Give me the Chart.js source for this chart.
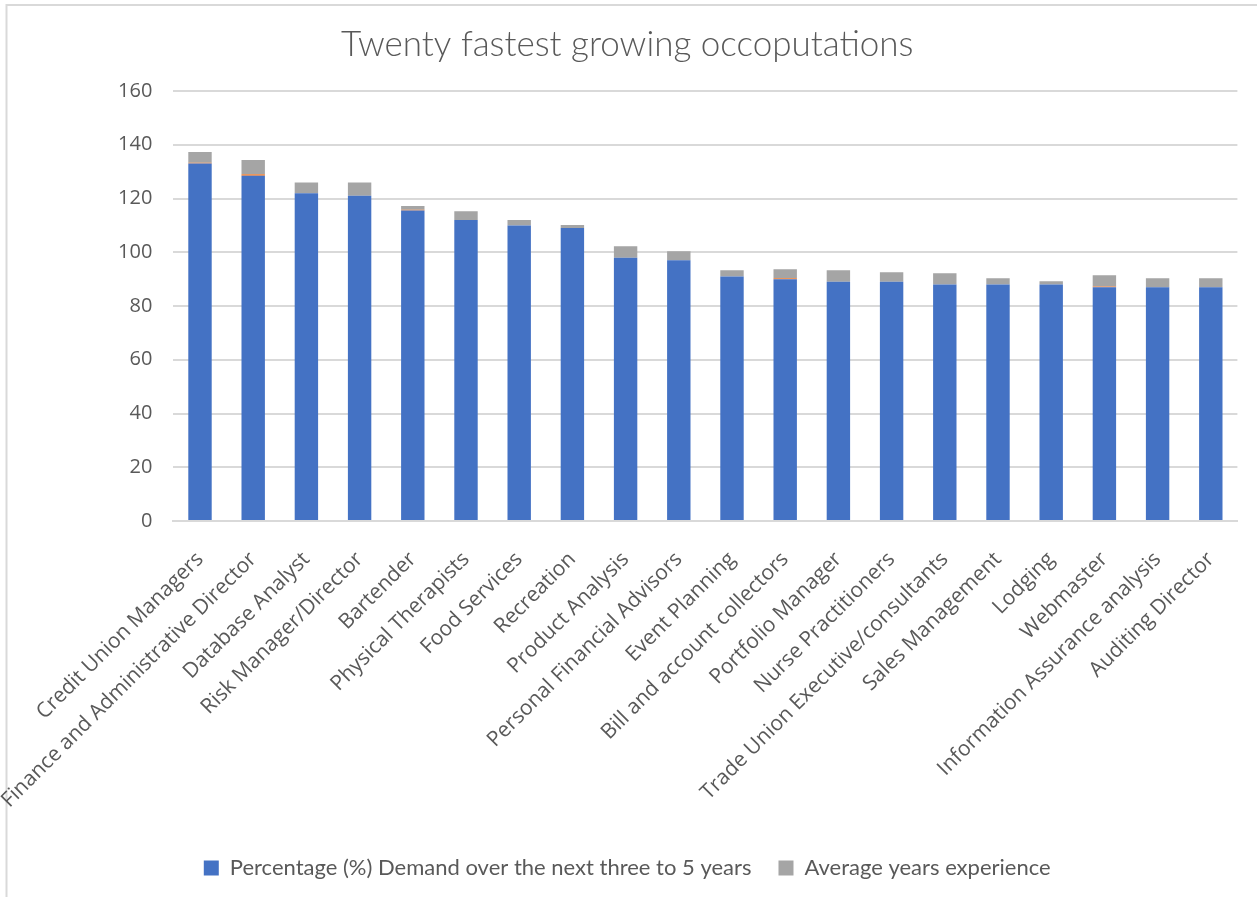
<!DOCTYPE html>
<html>
<head>
<meta charset="utf-8">
<script src="https://cdn.jsdelivr.net/npm/chart.js@4/dist/chart.umd.min.js"></script>
<style>
  html, body { margin: 0; padding: 0; background: #ffffff; }
  #wrap { position: relative; width: 1257px; height: 897px; }
</style>
</head>
<body>
<div id="wrap"><canvas id="chart" width="1257" height="897"></canvas></div>
<script>
// Occupations, in order of projected growth
const occupations = [
  'Credit Union Managers', 'Finance and Administrative Director', 'Database Analyst',
  'Risk Manager/Director', 'Bartender', 'Physical Therapists', 'Food Services',
  'Recreation', 'Product Analysis', 'Personal Financial Advisors', 'Event Planning',
  'Bill and account collectors', 'Portfolio Manager', 'Nurse Practitioners',
  'Trade Union Executive/consultants', 'Sales Management', 'Lodging', 'Webmaster',
  'Information Assurance analysis', 'Auditing Director'
];

// Percentage (%) demand over the next three to five years
const demandPct = [133, 128.5, 122, 121, 115.5, 112, 110, 109, 98, 97,
                   91, 90, 89, 89, 88, 88, 88, 87, 87, 87];

// Small third series (unlabelled in the legend)
const series3 = [0.3, 0.5, 0, 0, 0.3, 0, 0, 0, 0, 0,
                 0, 0.3, 0, 0, 0, 0, 0, 0.3, 0, 0];

// Average years of experience
const avgExperience = [4, 5.3, 4, 5, 1.4, 3.3, 2, 1.1, 4.2, 3.4,
                       2.3, 3.4, 4.3, 3.6, 4.2, 2.3, 1.2, 4.1, 3.3, 3.3];

// Value axis ticks
const yTicks = [0, 20, 40, 60, 80, 100, 120, 140, 160];

const TEXT = '#595959';
const GRID = '#D9D9D9';

// Thin frame along the top and left edges of the chart block
const framePlugin = {
  id: 'frame',
  beforeDraw(chart) {
    const ctx = chart.ctx;
    ctx.save();
    ctx.fillStyle = '#ffffff';
    ctx.fillRect(0, 0, chart.width, chart.height);
    ctx.strokeStyle = GRID;
    ctx.lineWidth = 2;
    ctx.beginPath();
    ctx.moveTo(6, 5);
    ctx.lineTo(chart.width, 5);
    ctx.moveTo(6.5, 4);
    ctx.lineTo(6.5, chart.height);
    ctx.stroke();
    ctx.restore();
  }
};

const PLOT_BOTTOM = 521;
const PLOT_LEFT = 173.4;
const PAD_LEFT = 17;
const PAD_BOTTOM = 8;

new Chart(document.getElementById('chart'), {
  type: 'bar',
  data: {
    labels: occupations,
    datasets: [
      {
        label: 'Percentage (%) Demand over the next three to 5 years',
        data: demandPct,
        backgroundColor: '#4472C4',
        stack: 's'
      },
      {
        label: 'Series 3',
        data: series3,
        backgroundColor: '#ED7D31',
        stack: 's'
      },
      {
        label: 'Average years experience',
        data: avgExperience,
        backgroundColor: '#A5A5A5',
        stack: 's'
      }
    ]
  },
  options: {
    responsive: false,
    animation: false,
    devicePixelRatio: 1,
    layout: { padding: { left: PAD_LEFT, right: 19.6, top: 0, bottom: PAD_BOTTOM } },
    datasets: {
      bar: { categoryPercentage: 0.44, barPercentage: 1.0, borderWidth: 0 }
    },
    plugins: {
      title: {
        display: true,
        text: 'Twenty fastest growing occoputations',
        color: TEXT,
        font: { family: 'Lato', size: 35, weight: '300' },
        padding: { top: 24, bottom: 25 }
      },
      legend: {
        position: 'bottom',
        labels: {
          color: TEXT,
          font: { family: 'Lato', size: 22 },
          boxWidth: 15,
          boxHeight: 15,
          padding: 27,
          filter: (item) => item.datasetIndex !== 1
        }
      },
      tooltip: { enabled: false }
    },
    scales: {
      x: {
        stacked: true,
        grid: { display: false, drawTicks: false },
        border: { display: true, color: GRID, width: 2 },
        ticks: {
          color: TEXT,
          font: { family: 'Open Sans', size: 21 },
          minRotation: 45,
          maxRotation: 45,
          autoSkip: false,
          padding: 26
        },
        afterFit(scale) {
          const legendH = scale.chart.legend ? scale.chart.legend.height : 60;
          scale.height = scale.chart.height - PLOT_BOTTOM - legendH - PAD_BOTTOM;
        }
      },
      y: {
        stacked: true,
        min: 0,
        max: 160,
        afterBuildTicks(scale) {
          scale.ticks = yTicks.map(v => ({ value: v }));
        },
        grid: { color: GRID, lineWidth: 2, drawTicks: false },
        border: { display: false },
        ticks: {
          color: TEXT,
          font: { family: 'Open Sans', size: 20 },
          padding: 21
        },
        afterFit(scale) {
          scale.width = PLOT_LEFT - PAD_LEFT;
        }
      }
    }
  },
  plugins: [framePlugin]
});
</script>
</body>
</html>
